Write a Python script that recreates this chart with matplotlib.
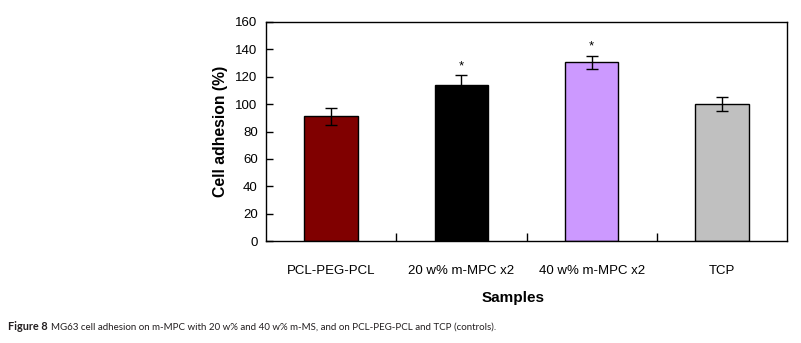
import matplotlib
matplotlib.use("Agg")
import matplotlib.pyplot as plt
import numpy as np

plt.rcParams["font.family"] = ["Liberation Sans", "DejaVu Sans"]

samples = ["PCL-PEG-PCL", "20 w% m-MPC x2", "40 w% m-MPC x2", "TCP"]
adhesion = [91, 114, 130.5, 100]
adhesion_err = [6, 7, 5, 5]
significant = [False, True, True, False]
bar_colors = ["#800000", "#000000", "#CC99FF", "#C0C0C0"]

fig = plt.figure(figsize=(8.01, 3.43), dpi=100)
ax = fig.add_axes([266 / 801, 1 - 241 / 343, 521 / 801, 219 / 343])

x = np.arange(len(samples))
ax.bar(x, adhesion, width=0.41, color=bar_colors, edgecolor="black", linewidth=1.0,
       yerr=adhesion_err, capsize=4, error_kw=dict(elinewidth=1.0, capthick=1.0, ecolor="black"))

for xi, val, err, sig in zip(x, adhesion, adhesion_err, significant):
    if sig:
        ax.text(xi, val + err + 2, "*", ha="center", va="bottom", fontsize=9.5)

ax.set_xlim(-0.5, len(samples) - 0.5)
ax.set_ylim(0, 160)
ax.set_yticks(np.arange(0, 161, 20))

# separators between categories as inward ticks, labels centred on bars
ax.set_xticks(x[:-1] + 0.5)
ax.set_xticklabels([])
ax.set_xticks(x, minor=True)
ax.set_xticklabels(samples, minor=True, fontsize=9.5)
ax.tick_params(axis="x", which="major", direction="in", length=6, width=1)
ax.tick_params(axis="x", which="minor", length=0, pad=17)
ax.tick_params(axis="y", direction="in", length=5, width=1, labelsize=9.5, pad=6)

for spine in ax.spines.values():
    spine.set_linewidth(1.0)

ax.set_ylabel("Cell adhesion (%)", fontsize=11.3, fontweight="bold", labelpad=5)
fig.text(513 / 801, 1 - 298 / 343, "Samples", ha="center", va="center",
         fontsize=11, fontweight="bold")

# caption: bold figure number followed by the regular text
cap_font = ["Lato", "Liberation Sans"]
head = fig.text(8 / 801, 1 - 327 / 343, "Figure 8", ha="left", va="center",
                fontsize=7.8, fontweight="bold", color="#231f20", family=cap_font)
fig.canvas.draw()
bb = head.get_window_extent(fig.canvas.get_renderer())
fig.text((bb.x1 + 3) / 801, 1 - 327 / 343,
         "MG63 cell adhesion on m-MPC with 20 w% and 40 w% m-MS, and on PCL-PEG-PCL and TCP (controls).",
         ha="left", va="center", fontsize=7, color="#231f20", family=cap_font)

fig.savefig("out.png", dpi=100)
